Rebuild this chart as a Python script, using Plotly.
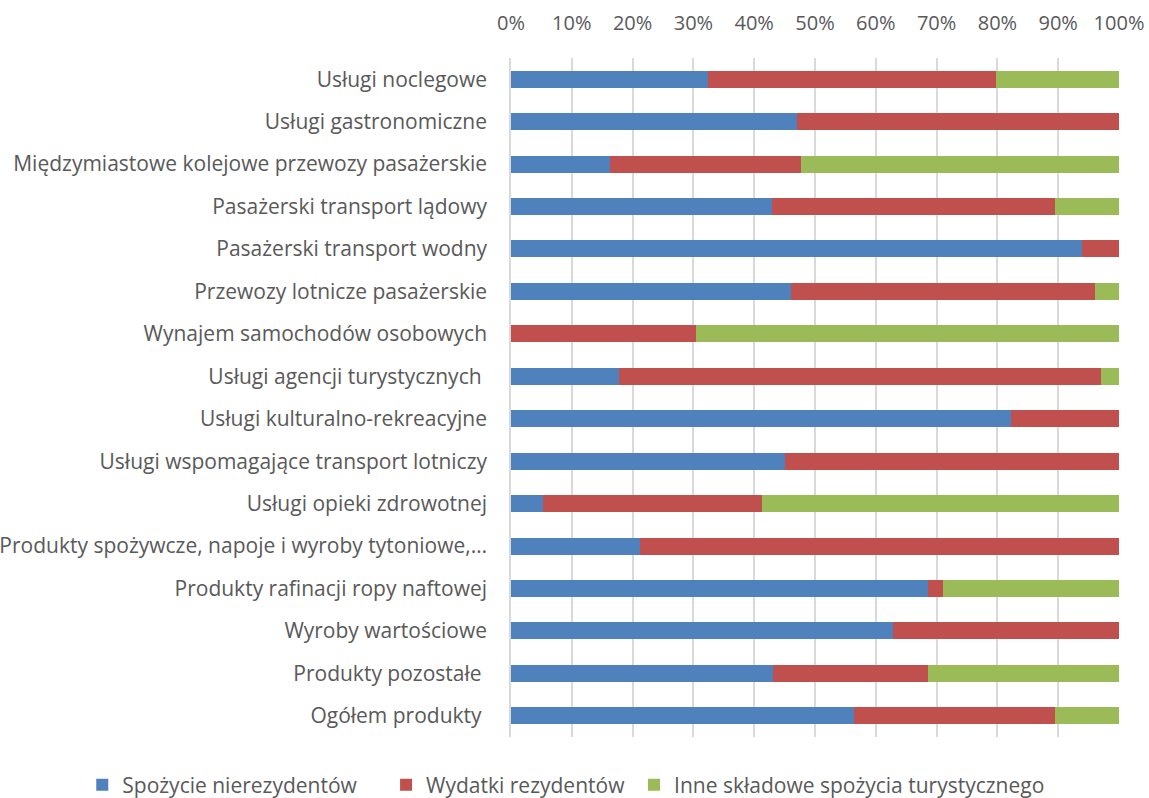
import plotly.graph_objects as go

categories = [
    "Usługi noclegowe",
    "Usługi gastronomiczne",
    "Międzymiastowe kolejowe przewozy pasażerskie",
    "Pasażerski transport lądowy",
    "Pasażerski transport wodny",
    "Przewozy lotnicze pasażerskie",
    "Wynajem samochodów osobowych",
    "Usługi agencji turystycznych\u00a0",
    "Usługi kulturalno-rekreacyjne",
    "Usługi wspomagające transport lotniczy",
    "Usługi opieki zdrowotnej",
    "Produkty spożywcze, napoje i wyroby tytoniowe,…",
    "Produkty rafinacji ropy naftowej",
    "Wyroby wartościowe",
    "Produkty pozostałe\u00a0",
    "Ogółem produkty\u00a0",
]

nierezydenci = [32.4, 47.0, 16.2, 43.0, 93.9, 46.1, 0.0, 17.8, 82.2, 45.1, 5.2, 21.2, 68.6, 62.8, 43.1, 56.4]
rezydenci = [47.4, 53.0, 31.5, 46.5, 6.1, 49.9, 30.5, 79.2, 17.8, 54.9, 36.1, 78.8, 2.5, 37.2, 25.5, 33.0]
inne = [20.2, 0.0, 52.3, 10.5, 0.0, 4.0, 69.5, 3.0, 0.0, 0.0, 58.7, 0.0, 28.9, 0.0, 31.4, 10.6]

series = [
    ("Spożycie nierezydentów", nierezydenci, "#4F81BD", "legend"),
    ("Wydatki rezydentów", rezydenci, "#C0504D", "legend2"),
    ("Inne składowe spożycia turystycznego", inne, "#9BBB59", "legend3"),
]

x_ticks = [0, 10, 20, 30, 40, 50, 60, 70, 80, 90, 100]
x_tick_labels = [f"{v}%" for v in x_ticks]

fig = go.Figure()
for name, vals, color, leg in series:
    fig.add_trace(go.Bar(
        y=categories, x=vals, name=name, orientation="h",
        marker=dict(color=color, line=dict(width=0)),
        legend=leg, showlegend=True,
    ))

legend_common = dict(
    orientation="h", xref="container", yref="container",
    y=0.0163, xanchor="left", yanchor="middle",
    font=dict(family="Open Sans", size=21, color="#595959"),
    itemwidth=30, bgcolor="rgba(0,0,0,0)", visible=True,
)

fig.update_layout(
    template="none",
    showlegend=True,
    barmode="stack",
    bargap=0.6,
    width=1149, height=798,
    margin=dict(l=511, r=30, t=58, b=61),
    paper_bgcolor="white", plot_bgcolor="white",
    font=dict(family="Open Sans", size=21, color="#595959"),
    xaxis=dict(
        side="top", range=[0, 100], tickvals=x_ticks, ticktext=x_tick_labels,
        showgrid=True, gridcolor="#D9D9D9", gridwidth=1.5, zeroline=False,
        ticks="", ticklabelstandoff=23, automargin=False,
        tickfont=dict(size=20), showline=False,
    ),
    yaxis=dict(
        autorange="reversed", showline=True, linecolor="#D9D9D9", linewidth=1.5,
        ticks="", ticklabelstandoff=18, showgrid=False, automargin=False,
        zeroline=False,
    ),
    legend=dict(legend_common, x=0.0716),
    legend2=dict(legend_common, x=0.336),
    legend3=dict(legend_common, x=0.5518),
)

fig.write_html(
    "out.html",
    config={"displayModeBar": False},
    post_script="document.body.style.margin='0px';",
)
